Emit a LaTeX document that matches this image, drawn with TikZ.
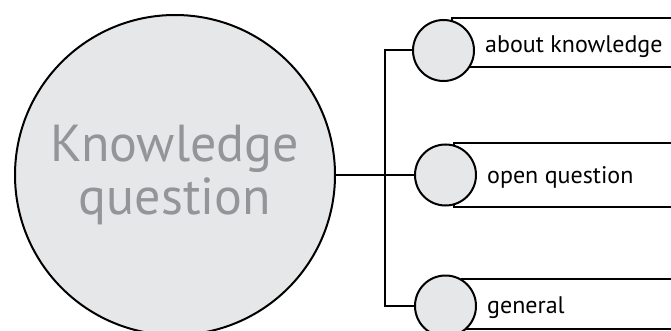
\documentclass[tikz,border=0pt]{standalone}
\usepackage{fontspec}
\setmainfont{PT Sans}
\usepackage{xcolor}
\usetikzlibrary{positioning}
\usetikzlibrary{calc}

\definecolor{discgray}{HTML}{E6E7E8}
\definecolor{textgray}{HTML}{939598}

\tikzset{
	bigdisc/.style={circle, draw, line width=2pt, fill=discgray, text=textgray, minimum size=320pt, inner sep=0pt, align=center, font=\fontsize{52}{52}\selectfont},
	smalldisc/.style={circle, draw, line width=2pt, fill=discgray, minimum size=61pt, inner sep=0pt},
	tag/.style={anchor=base west, inner sep=0pt, font=\fontsize{24}{26}\selectfont},
	wire/.style={line width=2pt}
}

\begin{document}
\begin{tikzpicture}[x=1pt, y=-1pt]
				\path[use as bounding box, clip] (0,0) rectangle (671,331);
				
				%boxes behind the small discs
				\draw[wire] (452,18) rectangle (700,67);
				\draw[wire] (454,143) rectangle (700,207);
				\draw[wire] (462,279) rectangle (700,329);
				
				%discs
				\node[bigdisc] (kq) at (175,175) {Knowledge\\question};
				\node[smalldisc] (about) at (443.5,50.5) {};
				\node[smalldisc] (open) at (445.5,175) {};
				\node[smalldisc] (general) at (445.5,306) {};
				
				% labels
				\node[tag] (aboutlbl) at (485,53) {about knowledge};
				\node[tag] (openlbl) at (487,183) {open question};
				\node[tag] (generallbl) at (487,313) {general};
				
				%connectors
				\coordinate (spine) at (385,0);
				\draw[wire] (kq.east) -- (kq.east -| spine);
				\draw[wire] (about.west) -- (about.west -| spine) -- (general.west -| spine) -- (general.west);
				\draw[wire] (open.west) -- (open.west -| spine);
			\end{tikzpicture}
\end{document}
